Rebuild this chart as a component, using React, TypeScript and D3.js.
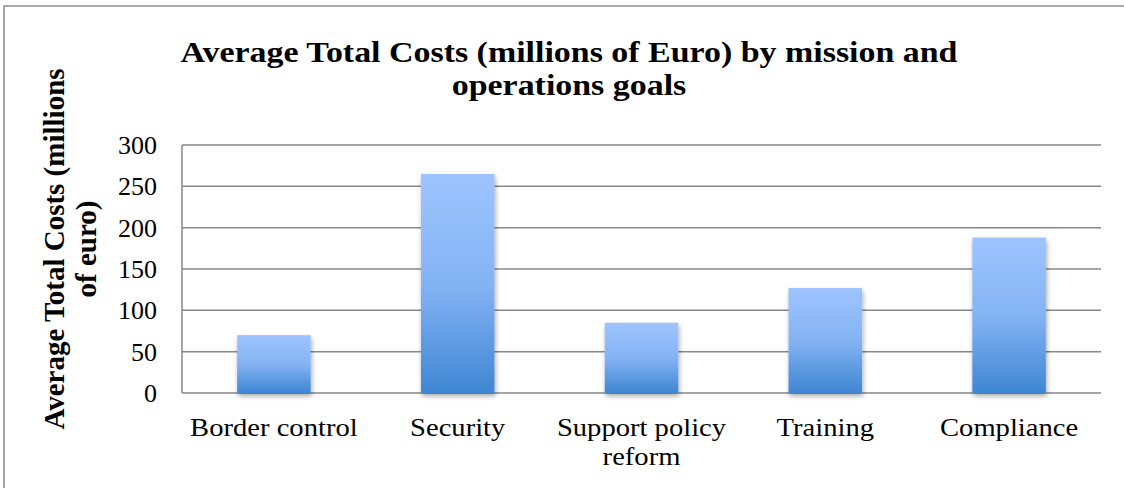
import React from "react";
import * as d3 from "d3";

const categories: string[][] = [
  ["Border control"],
  ["Security"],
  ["Support policy", "reform"],
  ["Training"],
  ["Compliance"],
];
const values: number[] = [70, 265, 85, 127, 188];
const yTicks: number[] = [0, 50, 100, 150, 200, 250, 300];
const titleLines: string[] = [
  "Average Total Costs (millions of Euro) by mission and",
  "operations goals",
];
const yLabelLines: string[] = ["Average Total Costs (millions", "of euro)"];

const W = 1124;
const H = 488;
const plot = { left: 182, right: 1101, top: 145, bottom: 393 };
const serif = "'Liberation Serif', 'Times New Roman', serif";

export default function App() {
  const keys = categories.map((c) => c.join(" "));
  const x = d3
    .scaleBand<string>()
    .domain(keys)
    .range([plot.left, plot.right])
    .paddingInner(0.6)
    .paddingOuter(0.3);
  const y = d3.scaleLinear().domain([0, 300]).range([plot.bottom, plot.top]);

  return (
    <svg
      width={W}
      height={H}
      style={{ position: "absolute", left: 0, top: 0, background: "#fff" }}
    >
      <defs>
        <linearGradient id="barGrad" x1="0" y1="0" x2="0" y2="1">
          <stop offset="0%" stopColor="#9EC4FF" />
          <stop offset="50%" stopColor="#84B3F4" />
          <stop offset="100%" stopColor="#3F86D3" />
        </linearGradient>
        <filter id="shadow" x="-20%" y="-10%" width="140%" height="130%">
          <feDropShadow dx="1" dy="3" stdDeviation="2.5" floodColor="#000" floodOpacity="0.35" />
        </filter>
      </defs>
      <rect x={4} y={6} width={W + 10} height={H + 10} fill="#fff" stroke="#8a8a8a" strokeWidth={1.5} />

      {/* title */}
      {titleLines.map((l, i) => (
        <g key={i} transform={`translate(569,${62 + i * 33}) scale(1.17,1)`}>
          <text
            x={0}
            y={0}
            textAnchor="middle"
            fontFamily={serif}
            fontWeight="bold"
            fontSize={29}
            fill="#000"
          >
            {l}
          </text>
        </g>
      ))}

      {/* y label */}
      {yLabelLines.map((l, i) => (
        <g key={i} transform={`translate(${64 + i * 32},249) rotate(-90)`}>
          <text textAnchor="middle" fontFamily={serif} fontWeight="bold" fontSize={29} fill="#000">
            {l}
          </text>
        </g>
      ))}

      {/* gridlines */}
      {yTicks.map((t) => (
        <line
          key={t}
          x1={plot.left}
          x2={plot.right}
          y1={y(t)}
          y2={y(t)}
          stroke="#878787"
          strokeWidth={1.5}
        />
      ))}
      <line x1={plot.left} x2={plot.left} y1={plot.top} y2={plot.bottom} stroke="#878787" strokeWidth={1.5} />

      {/* tick labels */}
      {yTicks.map((t) => (
        <text
          key={t}
          x={157}
          y={y(t)}
          dy="0.34em"
          textAnchor="end"
          fontFamily={serif}
          fontSize={26}
          fill="#000"
        >
          {t}
        </text>
      ))}

      {/* bars */}
      {values.map((v, i) => (
        <rect
          key={keys[i]}
          x={x(keys[i])}
          y={y(v)}
          width={x.bandwidth()}
          height={y(0) - y(v)}
          fill="url(#barGrad)"
          filter="url(#shadow)"
        />
      ))}

      {/* category labels */}
      {categories.map((lines, i) =>
        lines.map((l, j) => (
          <g
            key={keys[i] + j}
            transform={`translate(${(x(keys[i]) as number) + x.bandwidth() / 2},${436 + j * 29}) scale(1.1,1)`}
          >
            <text x={0} y={0} textAnchor="middle" fontFamily={serif} fontSize={26} fill="#000">
              {l}
            </text>
          </g>
        ))
      )}
    </svg>
  );
}
